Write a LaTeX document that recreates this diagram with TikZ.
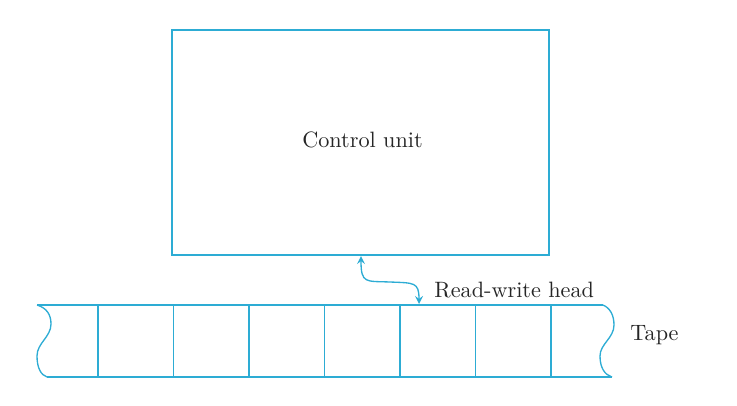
\documentclass[tikz,border=0pt]{standalone}
\usepackage{tikz}
\usetikzlibrary{positioning}
\definecolor{tapeblue}{RGB}{45,172,212}
\newcommand{\TAPETOP}{305}
\newcommand{\TAPEBOTTOM}{377}
\newcommand{\CELLWIDTH}{75.5}
\newcommand{\BOXWIDTH}{169.65pt}  % 377 * 0.45pt
\newcommand{\BOXHEIGHT}{101.25pt} % 225 * 0.45pt
\tikzset{
    blueline/.style={draw=tapeblue, line width=0.6pt},
    label/.style={inner sep=0pt, text=black!85},
}
\begin{document}
\begin{tikzpicture}[x=0.45pt, y=-0.45pt]
        \useasboundingbox (0, 0) rectangle (737, 405);

        % 控制器
        \node[blueline, minimum width=\BOXWIDTH, minimum height=\BOXHEIGHT, inner sep=0pt] (control) at (360.5, 142.5) {};
        \node[label, anchor=base] (controltext) at (362.5, 147) {Control unit};

        % 纸带(两端为波浪线)
        \draw[blueline] (37, \TAPETOP) -- (603, \TAPETOP); % 上边
        \draw[blueline] (47, \TAPEBOTTOM) -- (612, \TAPEBOTTOM); % 下边
        \draw[blueline] (37, \TAPETOP) .. controls (47, 308) and (51, 315) .. (51, 324)
            .. controls (51, 337) and (37, 343) .. (37, 356)
            .. controls (37, 368) and (41, 375) .. (47, \TAPEBOTTOM); % 左端
        \draw[blueline] (603, \TAPETOP) .. controls (610, 308) and (614, 315) .. (614, 325)
            .. controls (614, 338) and (600, 344) .. (600, 356)
            .. controls (600, 368) and (605, 375) .. (612, \TAPEBOTTOM); % 右端

        % 格子
        \draw[blueline] (98, \TAPETOP) -- (98, \TAPEBOTTOM);
        \draw[blueline] (98+\CELLWIDTH, \TAPETOP) -- (98+\CELLWIDTH, \TAPEBOTTOM);
        \draw[blueline] (98+2*\CELLWIDTH, \TAPETOP) -- (98+2*\CELLWIDTH, \TAPEBOTTOM);
        \draw[blueline] (98+3*\CELLWIDTH, \TAPETOP) -- (98+3*\CELLWIDTH, \TAPEBOTTOM);
        \draw[blueline] (98+4*\CELLWIDTH, \TAPETOP) -- (98+4*\CELLWIDTH, \TAPEBOTTOM);
        \draw[blueline] (98+5*\CELLWIDTH, \TAPETOP) -- (98+5*\CELLWIDTH, \TAPEBOTTOM);
        \draw[blueline] (98+6*\CELLWIDTH, \TAPETOP) -- (98+6*\CELLWIDTH, \TAPEBOTTOM);
        \node[label, anchor=base west] (tape) at (630, 340) {Tape};

        % 读写头
        \coordinate (headtop) at (361, 256);
        \coordinate (headbottom) at (419, 304);
        \draw[blueline, <->, >=stealth] (headtop) .. controls (361, 284) and (366, 281) .. (390, 282)
            .. controls (414, 283) and (419, 282) .. (headbottom);
        \node[label, anchor=base west] (head) at (434, 297) {Read-write head};

    \end{tikzpicture}
\end{document}
